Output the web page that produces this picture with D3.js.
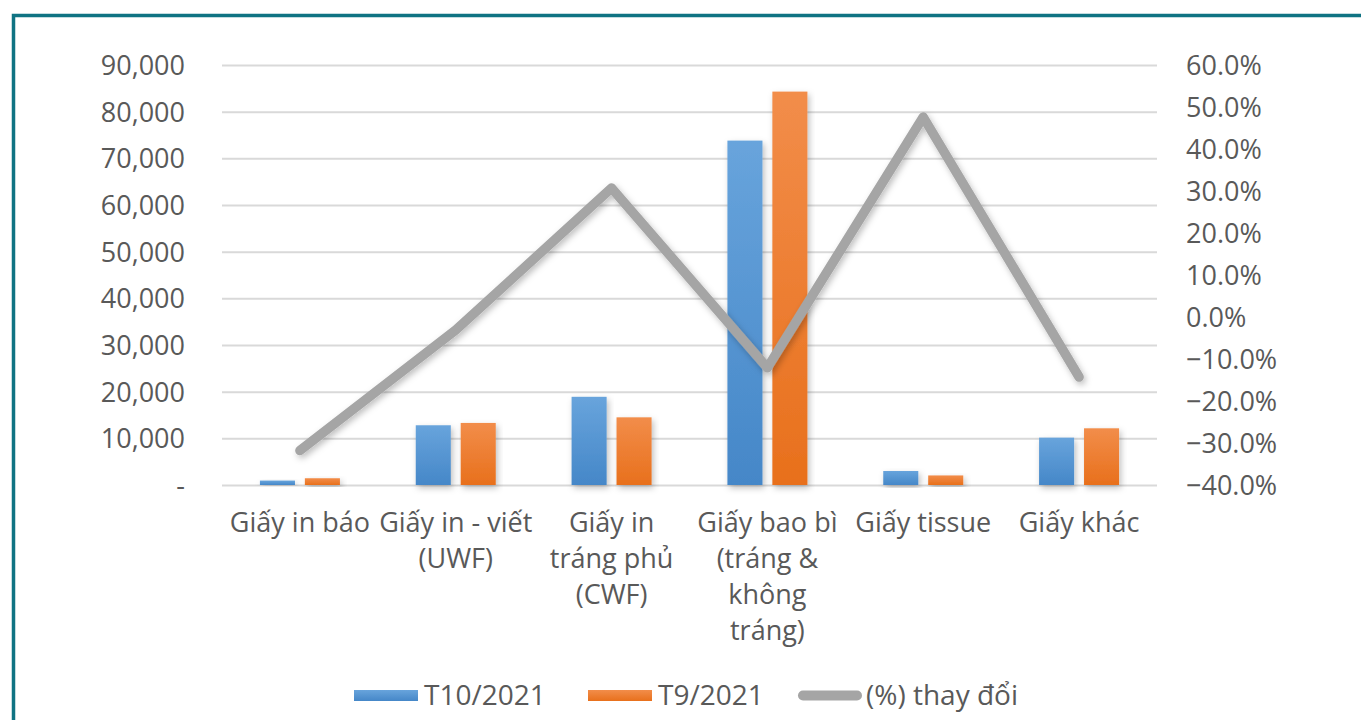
<!DOCTYPE html>
<html lang="vi">
  <head>
    <meta charset="UTF-8" />
    <title>Giấy</title>
    <script src="https://d3js.org/d3.v7.min.js"></script>
    <style>
      html, body { margin: 0; padding: 0; background: #fff; }
      svg { display: block; font-family: "Open Sans", sans-serif; }
      .lbl { fill: #595959; font-size: 27px; font-family: "Open Sans", sans-serif; }
      .leg { font-size: 28px; }
    </style>
  </head>
  <body>
    <svg id="chart" width="1361" height="720"></svg>
    <script>
      // data
      const categories = [
        ["Giấy in báo"],
        ["Giấy in - viết", "(UWF)"],
        ["Giấy in", "tráng phủ", "(CWF)"],
        ["Giấy bao bì", "(tráng &", "không", "tráng)"],
        ["Giấy tissue"],
        ["Giấy khác"]
      ];
      const seriesNames = ["T10/2021", "T9/2021", "(%) thay đổi"];
      const t10 = [950, 12800, 18900, 73800, 3000, 10150];
      const t9 = [1450, 13300, 14500, 84300, 2050, 12150];
      const pctChange = [-0.318, -0.031, 0.307, -0.121, 0.476, -0.143];
      const leftTicks = [0, 10000, 20000, 30000, 40000, 50000, 60000, 70000, 80000, 90000];
      const rightTicks = [-0.4, -0.3, -0.2, -0.1, 0, 0.1, 0.2, 0.3, 0.4, 0.5, 0.6];

      const width = 1361, height = 720;
      const plot = { left: 222, right: 1157, top: 65, bottom: 485 };
      const svg = d3.select("#chart");

      svg.append("rect").attr("width", width).attr("height", height).attr("fill", "#fff");
      // teal frame
      svg.append("rect")
        .attr("x", 13.5).attr("y", 15.5)
        .attr("width", 1400).attr("height", 800)
        .attr("fill", "none").attr("stroke", "#0f7383").attr("stroke-width", 3.5);

      const defs = svg.append("defs");
      const grad = (id, top, bottom) => {
        const g = defs.append("linearGradient").attr("id", id)
          .attr("x1", 0).attr("y1", 0).attr("x2", 0).attr("y2", 1);
        g.append("stop").attr("offset", "0%").attr("stop-color", top);
        g.append("stop").attr("offset", "100%").attr("stop-color", bottom);
      };
      grad("gBlue", "#68a4dc", "#4587c8");
      grad("gOrange", "#f28d4a", "#e8701c");
      defs.append("filter").attr("id", "shadow")
        .attr("x", "-20%").attr("y", "-20%").attr("width", "140%").attr("height", "140%")
        .append("feDropShadow")
        .attr("dx", 2).attr("dy", 3).attr("stdDeviation", 3)
        .attr("flood-color", "#000").attr("flood-opacity", 0.25);

      const x0 = d3.scaleBand().domain(d3.range(categories.length)).range([plot.left, plot.right]);
      const x1 = d3.scaleBand().domain([0, 1]).range([0, 80]).paddingInner(0.22);
      const yL = d3.scaleLinear().domain([0, 90000]).range([plot.bottom, plot.top]);
      const yR = d3.scaleLinear().domain([-0.4, 0.6]).range([plot.bottom, plot.top]);

      // gridlines + left axis
      const yAxisL = d3.axisLeft(yL).tickValues(leftTicks)
        .tickSize(-(plot.right - plot.left)).tickPadding(37)
        .tickFormat(d => d === 0 ? "-     " : d3.format(",")(d));
      const gL = svg.append("g").attr("transform", `translate(${plot.left},0)`).call(yAxisL)
        .attr("font-family", null).attr("font-size", null);
      gL.select(".domain").remove();
      gL.selectAll("line").attr("stroke", "#d9d9d9").attr("stroke-width", 2);
      gL.selectAll("text").attr("class", "lbl").attr("dy", "0.35em");

      // right axis
      const yAxisR = d3.axisRight(yR).tickValues(rightTicks).tickSize(0).tickPadding(29)
        .tickFormat(d3.format(".1%"));
      const gR = svg.append("g").attr("transform", `translate(${plot.right},0)`).call(yAxisR)
        .attr("font-family", null).attr("font-size", null);
      gR.select(".domain").remove();
      gR.selectAll("text").attr("class", "lbl").attr("dy", "0.35em");

      // bars
      const groups = svg.append("g").selectAll("g").data(categories).join("g")
        .attr("transform", (d, i) => `translate(${x0(i) + x0.bandwidth() / 2 - 40},0)`);
      const fills = ["url(#gBlue)", "url(#gOrange)"];
      groups.selectAll("rect")
        .data((d, i) => [t10[i], t9[i]])
        .join("rect")
        .attr("x", (d, j) => x1(j))
        .attr("width", x1.bandwidth())
        .attr("y", d => yL(d))
        .attr("height", d => yL(0) - yL(d))
        .attr("fill", (d, j) => fills[j])
        .attr("filter", "url(#shadow)");

      // % change line
      const line = d3.line()
        .x((d, i) => x0(i) + x0.bandwidth() / 2)
        .y(d => yR(d));
      svg.append("path").datum(pctChange)
        .attr("d", line)
        .attr("fill", "none")
        .attr("stroke", "#a5a5a5")
        .attr("stroke-width", 9.5)
        .attr("stroke-linecap", "round")
        .attr("stroke-linejoin", "round")
        .attr("filter", "url(#shadow)");

      // category labels
      const xl = svg.append("g");
      categories.forEach((lines, i) => {
        const t = xl.append("text").attr("class", "lbl").attr("text-anchor", "middle")
          .attr("x", x0(i) + x0.bandwidth() / 2).attr("y", 532);
        lines.forEach((s, k) => t.append("tspan")
          .attr("x", x0(i) + x0.bandwidth() / 2).attr("dy", k === 0 ? 0 : 36).text(s));
      });

      // legend
      const legend = svg.append("g");
      const legX = [354, 588, 798];
      const legFill = ["url(#gBlue)", "url(#gOrange)"];
      seriesNames.forEach((name, i) => {
        if (i < 2) {
          legend.append("rect").attr("x", legX[i]).attr("y", 690).attr("width", 64).attr("height", 11)
            .attr("fill", legFill[i]);
        } else {
          legend.append("line").attr("x1", legX[i] + 5).attr("x2", legX[i] + 64 - 5)
            .attr("y1", 695.5).attr("y2", 695.5)
            .attr("stroke", "#a5a5a5").attr("stroke-width", 10).attr("stroke-linecap", "round");
        }
        legend.append("text").attr("class", "lbl leg").attr("x", legX[i] + (i < 2 ? 70 : 68)).attr("y", 705).text(name);
      });
    </script>
  </body>
</html>
